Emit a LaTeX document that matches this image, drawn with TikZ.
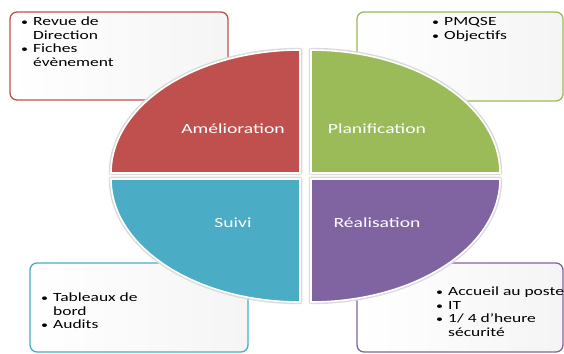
\documentclass[tikz,border=0pt]{standalone}
\usepackage{fontspec}
\setmainfont[FakeStretch=1.4]{Carlito}
\definecolor{qred}{HTML}{C0504D}
\definecolor{qgreen}{HTML}{9BBB59}
\definecolor{qblue}{HTML}{4BACC6}
\definecolor{qpurple}{HTML}{8064A2}
\newcommand\bitem[1]{\makebox[12pt][l]{\scalebox{0.8}{\textbullet}}#1}
\newcommand\bcont[1]{\hspace*{12pt}#1}
\newcommand\boxtext[1]{\parbox[t]{5cm}{\fontsize{12.5}{13.5}\selectfont\raggedright #1}}
\tikzset{
  infobox/.style={draw=#1, line width=1.3pt, rounded corners=7pt, left color=white, right color=black!4},
  quad/.style={fill=#1, draw=white, line width=1.6pt},
  qshadow/.style={draw=black!14, line width=4.5pt, line join=round},
  qlabel/.style={text=white, font=\fontsize{14}{16}\selectfont, inner sep=0pt},
  btxt/.style={anchor=base west, inner sep=0pt, text=black}
}
\begin{document}
\begin{tikzpicture}[x=1pt,y=1pt]
\useasboundingbox (0,0) rectangle (564,353);
% text boxes
\path[infobox=qred] (10,253) rectangle (228,341);
\path[infobox=qgreen] (357,252) rectangle (563,341);
\path[infobox=qblue] (30,1) rectangle (248,90);
\path[infobox=qpurple] (357,1) rectangle (563,90);
% box texts
\node[btxt] (tred) at (21,327) {\boxtext{\bitem{Revue de}\\\bcont{Direction}\\\bitem{Fiches}\\\bcont{évènement}}};
\node[btxt] (tgreen) at (432,327) {\boxtext{\bitem{PMQSE}\\\bitem{Objectifs}}};
\node[btxt] (tblue) at (41,51) {\boxtext{\bitem{Tableaux de}\\\bcont{bord}\\\bitem{Audits}}};
\node[btxt] (tpurple) at (436,57) {\boxtext{\bitem{Accueil au poste}\\\bitem{IT}\\\bitem{1/ 4 d’heure}\\\bcont{sécurité}}};
% quadrant shadows
\draw[qshadow] (300,180) -- ++(-189,0) arc[start angle=180,end angle=90,x radius=189,y radius=123] -- cycle;
\draw[qshadow] (311,180) -- ++(189,0) arc[start angle=0,end angle=90,x radius=189,y radius=123] -- cycle;
\draw[qshadow] (300,174) -- ++(-189,0) arc[start angle=180,end angle=270,x radius=189,y radius=123] -- cycle;
\draw[qshadow] (311,174) -- ++(189,0) arc[start angle=0,end angle=-90,x radius=189,y radius=123] -- cycle;
% quadrants
\path[quad=qred] (300,180) -- ++(-189,0) arc[start angle=180,end angle=90,x radius=189,y radius=123] -- cycle;
\path[quad=qgreen] (311,180) -- ++(189,0) arc[start angle=0,end angle=90,x radius=189,y radius=123] -- cycle;
\path[quad=qblue] (300,174) -- ++(-189,0) arc[start angle=180,end angle=270,x radius=189,y radius=123] -- cycle;
\path[quad=qpurple] (311,174) -- ++(189,0) arc[start angle=0,end angle=-90,x radius=189,y radius=123] -- cycle;
% labels
\node[qlabel] (lam) at (233,224) {Amélioration};
\node[qlabel] (lpl) at (377,224) {Planification};
\node[qlabel] (lsu) at (233,130) {Suivi};
\node[qlabel] (lre) at (377,130) {Réalisation};
\end{tikzpicture}
\end{document}
